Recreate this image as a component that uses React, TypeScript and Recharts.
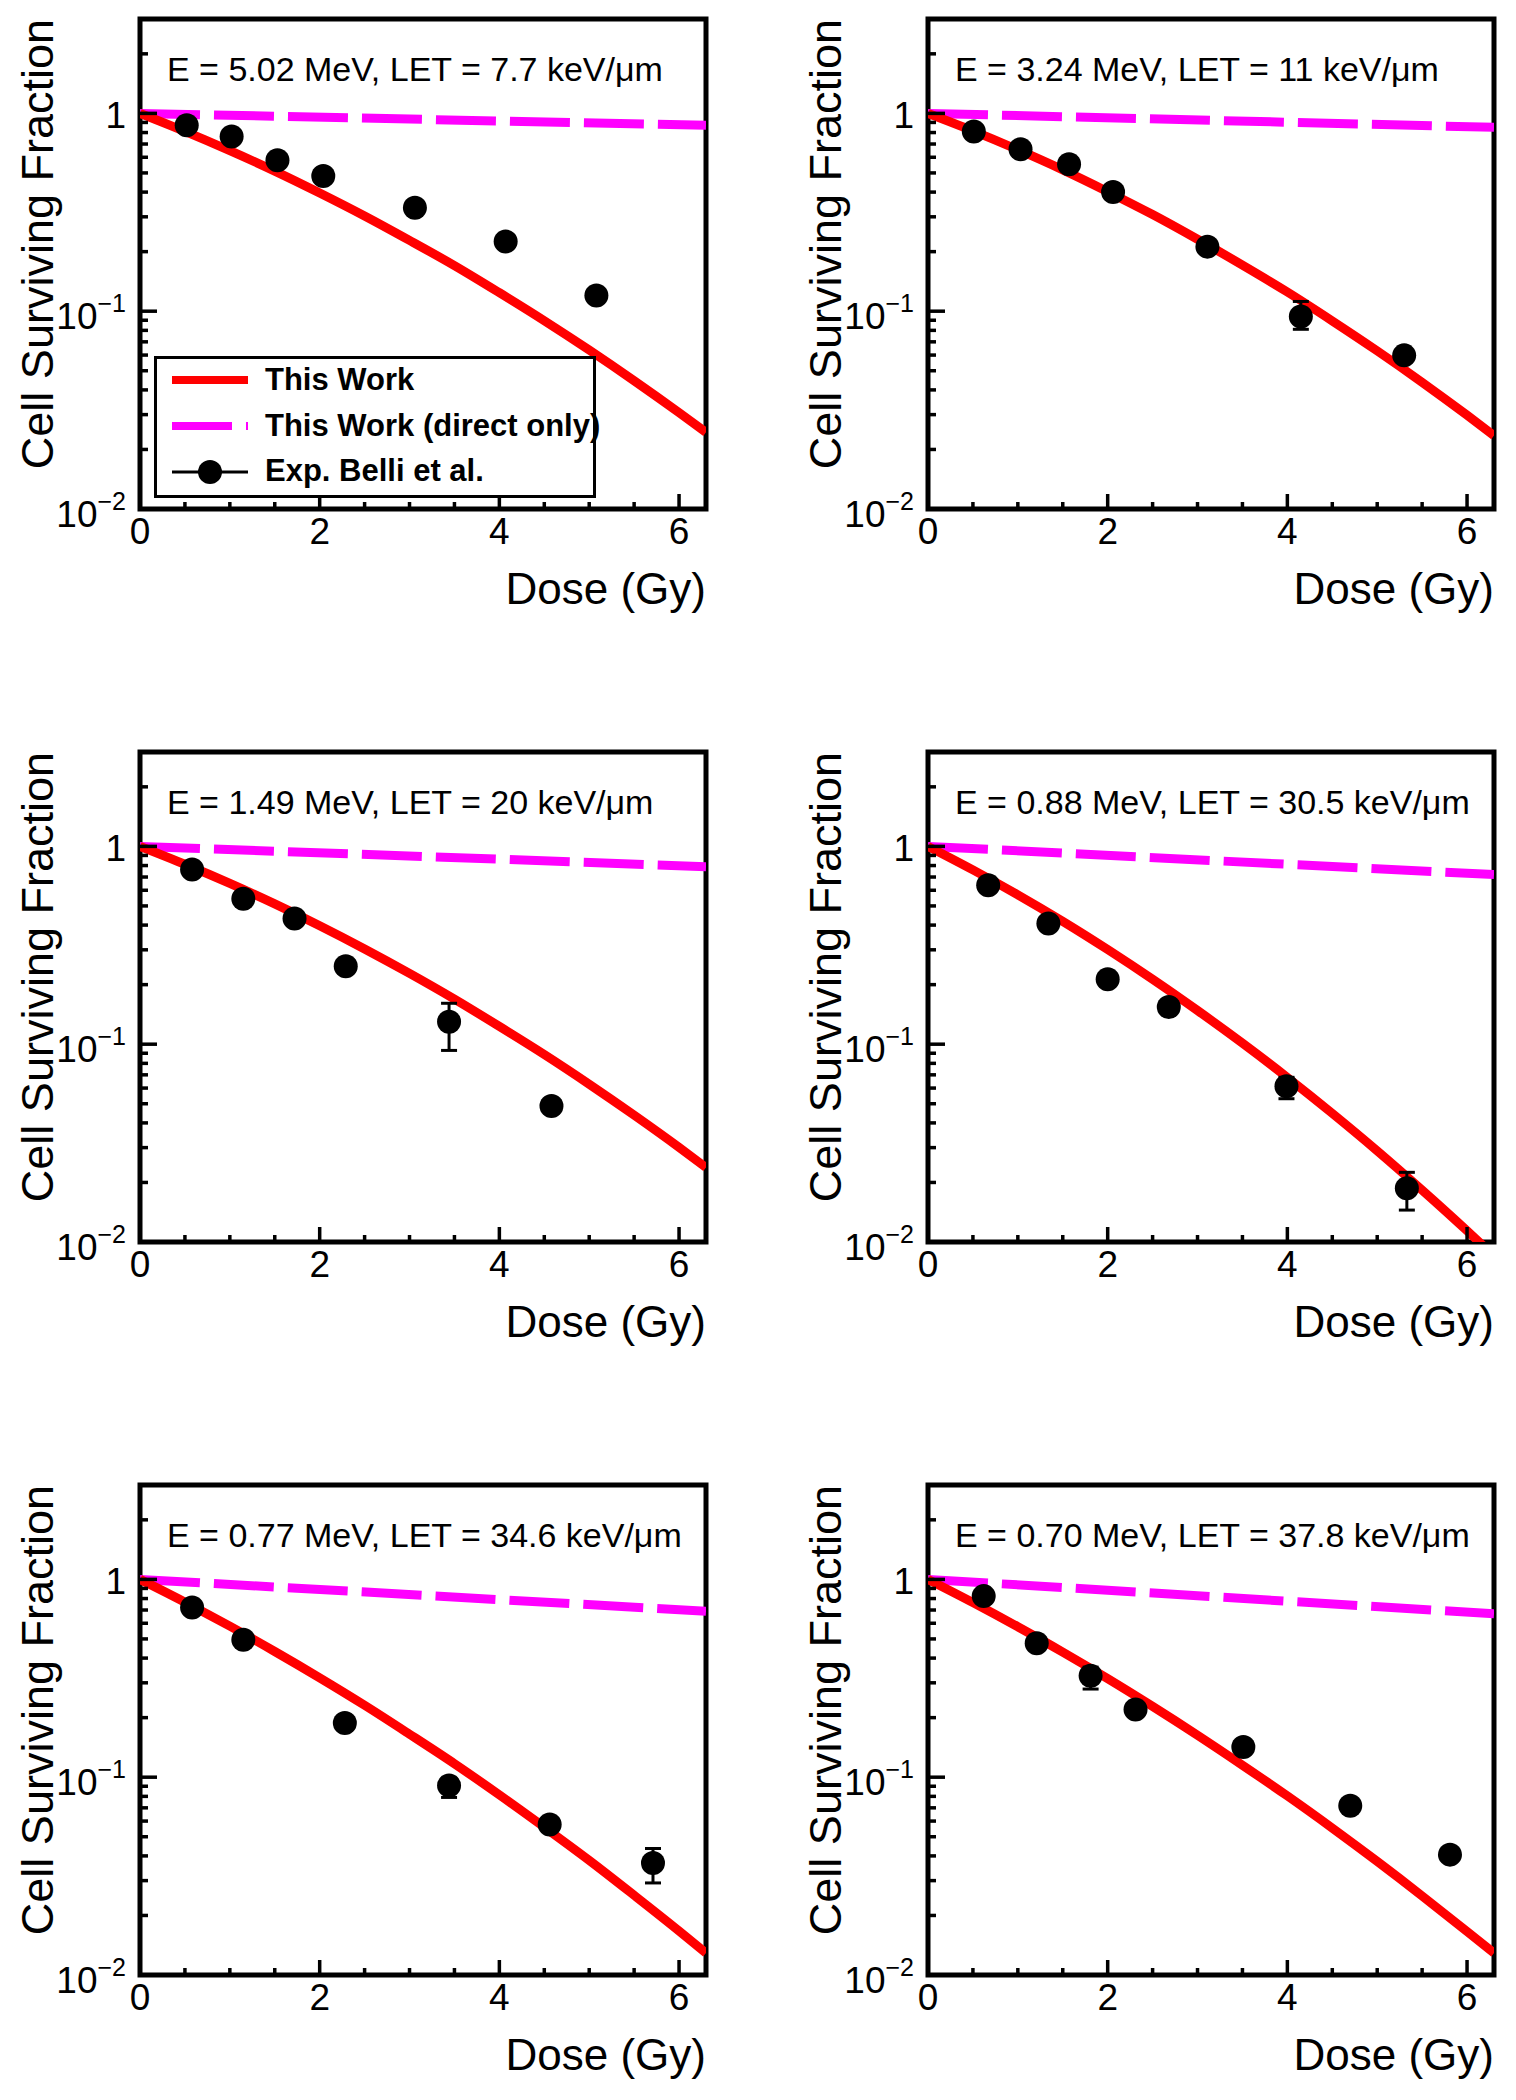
import React from "react";
import {
  ComposedChart,
  Line,
  Scatter,
  ErrorBar,
  XAxis,
  YAxis,
  ReferenceArea,
} from "recharts";

const FONT = "'Liberation Sans', Arial, Helvetica, sans-serif";

// doses at which the model curves were read
const CURVE_DOSE = [0, 0.5, 1, 1.5, 2, 2.5, 3, 3.5, 4, 4.5, 5, 5.5, 6, 6.3];
const DIRECT_DOSE = [0, 6.3];

const X_TICKS = [0, 0.5, 1, 1.5, 2, 2.5, 3, 3.5, 4, 4.5, 5, 5.5, 6];
const Y_TICKS = [
  0.01, 0.02, 0.03, 0.04, 0.05, 0.06, 0.07, 0.08, 0.09,
  0.1, 0.2, 0.3, 0.4, 0.5, 0.6, 0.7, 0.8, 0.9,
  1, 2, 3,
];

const LABELS = [
  "E = 5.02 MeV, LET = 7.7 keV/\u03bcm",
  "E = 3.24 MeV, LET = 11 keV/\u03bcm",
  "E = 1.49 MeV, LET = 20 keV/\u03bcm",
  "E = 0.88 MeV, LET = 30.5 keV/\u03bcm",
  "E = 0.77 MeV, LET = 34.6 keV/\u03bcm",
  "E = 0.70 MeV, LET = 37.8 keV/\u03bcm",
];

// "This Work" (full model)
const MODEL_1 = [1, 0.811, 0.648, 0.511, 0.396, 0.303, 0.228, 0.17, 0.124, 0.0895, 0.0636, 0.0445, 0.0307, 0.0244];
const MODEL_2 = [1, 0.816, 0.655, 0.518, 0.402, 0.308, 0.231, 0.171, 0.125, 0.0893, 0.063, 0.0437, 0.0298, 0.0235];
const MODEL_3 = [1, 0.812, 0.65, 0.512, 0.397, 0.303, 0.228, 0.169, 0.123, 0.0887, 0.0628, 0.0438, 0.0301, 0.0238];
const MODEL_4 = [1, 0.761, 0.569, 0.418, 0.301, 0.213, 0.148, 0.1012, 0.0679, 0.0447, 0.0289, 0.0183, 0.0114, 0.0085];
const MODEL_5 = [1, 0.767, 0.58, 0.432, 0.318, 0.231, 0.165, 0.117, 0.0814, 0.0559, 0.038, 0.0253, 0.0167, 0.0129];
const MODEL_6 = [1, 0.764, 0.576, 0.429, 0.315, 0.228, 0.163, 0.115, 0.0804, 0.0553, 0.0375, 0.0251, 0.0166, 0.0129];

// "This Work (direct only)"
const DIRECT_1 = [1, 0.87];
const DIRECT_2 = [1, 0.85];
const DIRECT_3 = [1, 0.79];
const DIRECT_4 = [1, 0.72];
const DIRECT_5 = [1, 0.69];
const DIRECT_6 = [1, 0.67];

// Exp. Belli et al.
const EXP_DOSE_1 = [0.52, 1.02, 1.53, 2.04, 3.06, 4.07, 5.08];
const EXP_SF_1 = [0.87, 0.764, 0.58, 0.483, 0.333, 0.225, 0.12];
const EXP_LO_1 = [0.87, 0.764, 0.58, 0.483, 0.333, 0.225, 0.12];
const EXP_HI_1 = [0.87, 0.764, 0.58, 0.483, 0.333, 0.225, 0.12];

const EXP_DOSE_2 = [0.51, 1.03, 1.57, 2.06, 3.11, 4.15, 5.3];
const EXP_SF_2 = [0.81, 0.659, 0.553, 0.4, 0.212, 0.094, 0.0598];
const EXP_LO_2 = [0.81, 0.659, 0.553, 0.4, 0.212, 0.081, 0.0598];
const EXP_HI_2 = [0.81, 0.659, 0.553, 0.4, 0.212, 0.112, 0.0598];

const EXP_DOSE_3 = [0.58, 1.15, 1.72, 2.29, 3.44, 4.58];
const EXP_SF_3 = [0.765, 0.544, 0.432, 0.248, 0.13, 0.0487];
const EXP_LO_3 = [0.765, 0.544, 0.432, 0.248, 0.093, 0.0487];
const EXP_HI_3 = [0.765, 0.544, 0.432, 0.248, 0.161, 0.0487];

const EXP_DOSE_4 = [0.67, 1.34, 2.0, 2.68, 3.99, 5.33];
const EXP_SF_4 = [0.636, 0.407, 0.213, 0.154, 0.0613, 0.0187];
const EXP_LO_4 = [0.636, 0.407, 0.213, 0.154, 0.053, 0.0145];
const EXP_HI_4 = [0.636, 0.407, 0.213, 0.154, 0.068, 0.0225];

const EXP_DOSE_5 = [0.58, 1.15, 2.28, 3.44, 4.56, 5.71];
const EXP_SF_5 = [0.721, 0.495, 0.188, 0.0907, 0.0576, 0.0368];
const EXP_LO_5 = [0.721, 0.495, 0.188, 0.079, 0.0576, 0.0292];
const EXP_HI_5 = [0.721, 0.495, 0.188, 0.099, 0.0576, 0.0436];

const EXP_DOSE_6 = [0.62, 1.21, 1.81, 2.31, 3.51, 4.7, 5.81];
const EXP_SF_6 = [0.823, 0.476, 0.326, 0.22, 0.142, 0.0718, 0.0406];
const EXP_LO_6 = [0.823, 0.476, 0.279, 0.22, 0.142, 0.0718, 0.0406];
const EXP_HI_6 = [0.823, 0.476, 0.36, 0.22, 0.142, 0.0718, 0.0406];

const PANELS = [
  { model: MODEL_1, direct: DIRECT_1, dose: EXP_DOSE_1, sf: EXP_SF_1, lo: EXP_LO_1, hi: EXP_HI_1 },
  { model: MODEL_2, direct: DIRECT_2, dose: EXP_DOSE_2, sf: EXP_SF_2, lo: EXP_LO_2, hi: EXP_HI_2 },
  { model: MODEL_3, direct: DIRECT_3, dose: EXP_DOSE_3, sf: EXP_SF_3, lo: EXP_LO_3, hi: EXP_HI_3 },
  { model: MODEL_4, direct: DIRECT_4, dose: EXP_DOSE_4, sf: EXP_SF_4, lo: EXP_LO_4, hi: EXP_HI_4 },
  { model: MODEL_5, direct: DIRECT_5, dose: EXP_DOSE_5, sf: EXP_SF_5, lo: EXP_LO_5, hi: EXP_HI_5 },
  { model: MODEL_6, direct: DIRECT_6, dose: EXP_DOSE_6, sf: EXP_SF_6, lo: EXP_LO_6, hi: EXP_HI_6 },
];

// layout
const PLOT_W = 566;
const PLOT_H = 490;
const M_LEFT = 40;
const Y_AXIS_W = 100;
const M_TOP = 19;
const M_RIGHT = 12;
const X_AXIS_H = 100;
const M_BOTTOM = 10;
const CW = M_LEFT + Y_AXIS_W + PLOT_W + M_RIGHT;
const CH = M_TOP + PLOT_H + X_AXIS_H + M_BOTTOM;
const COL_X = [0, 788];
const ROW_Y = [0, 733, 1466];

const RED = "#ff0000";
const MAGENTA = "#ff00ff";

const XTick = (props: any) => {
  const { x, y, payload } = props;
  const v = payload.value;
  const major = Math.abs(v - Math.round(v / 2) * 2) < 1e-6;
  return (
    <g>
      <line x1={x} x2={x} y1={y} y2={y - (major ? 15 : 7)} stroke="#000" strokeWidth={3.5} />
      {major && (
        <text x={x} y={y + 35} textAnchor="middle" fontSize={37} fontFamily={FONT} fill="#000">
          {v}
        </text>
      )}
    </g>
  );
};

const YTick = (props: any) => {
  const { x, y, payload } = props;
  const v = payload.value;
  const exp = Math.log10(v);
  const major = Math.abs(exp - Math.round(exp)) < 1e-6;
  const e = Math.round(exp);
  return (
    <g>
      <line x1={x} x2={x + (major ? 17 : 8)} y1={y} y2={y} stroke="#000" strokeWidth={3.5} />
      {major && (
        <text
          x={x - 14}
          y={y + (e === 0 ? 15 : 18)}
          textAnchor="end"
          fontSize={37}
          fontFamily={FONT}
          fill="#000"
        >
          {e === 0 ? (
            "1"
          ) : (
            <>
              10
              <tspan dy={-17} fontSize={25}>
                {"\u2212" + Math.abs(e)}
              </tspan>
            </>
          )}
        </text>
      )}
    </g>
  );
};

const Marker = (props: any) => <circle cx={props.cx} cy={props.cy} r={12} fill="#000" />;

function Panel({ idx }: { idx: number }) {
  const p = PANELS[idx];
  const curve = CURVE_DOSE.map((x, i) => ({ x, y: p.model[i] }));
  const direct = DIRECT_DOSE.map((x, i) => ({ x, y: p.direct[i] }));
  const pts = p.dose.map((x, i) => ({
    x,
    y: p.sf[i],
    err: [p.sf[i] - p.lo[i], p.hi[i] - p.sf[i]],
  }));
  const left = COL_X[idx % 2];
  const top = ROW_Y[Math.floor(idx / 2)];
  return (
    <div style={{ position: "absolute", left, top, width: CW, height: CH }}>
      <ComposedChart
        width={CW}
        height={CH}
        margin={{ top: M_TOP, right: M_RIGHT, bottom: M_BOTTOM, left: M_LEFT }}
      >
        <XAxis
          type="number"
          dataKey="x"
          domain={[0, 6.3]}
          ticks={X_TICKS}
          interval={0}
          allowDataOverflow
          axisLine={false}
          tickLine={false}
          tickSize={0}
          tickMargin={0}
          height={X_AXIS_H}
          tick={XTick}
        />
        <YAxis
          type="number"
          dataKey="y"
          scale="log"
          domain={[0.01, 3]}
          ticks={Y_TICKS}
          interval={0}
          allowDataOverflow
          axisLine={false}
          tickLine={false}
          tickSize={0}
          tickMargin={0}
          width={Y_AXIS_W}
          tick={YTick}
        />
        <Line
          data={direct}
          dataKey="y"
          type="linear"
          stroke={MAGENTA}
          strokeWidth={9}
          strokeDasharray="60 14"
          dot={false}
          activeDot={false}
          isAnimationActive={false}
        />
        <Line
          data={curve}
          dataKey="y"
          type="monotone"
          stroke={RED}
          strokeWidth={9}
          dot={false}
          activeDot={false}
          isAnimationActive={false}
        />
        <Scatter data={pts} dataKey="y" fill="#000" shape={Marker} isAnimationActive={false}>
          <ErrorBar dataKey="err" direction="y" width={8} stroke="#000" strokeWidth={3} />
        </Scatter>
        <ReferenceArea
          x1={0}
          x2={6.3}
          y1={0.01}
          y2={3}
          fill="none"
          stroke="#000"
          strokeWidth={5}
          ifOverflow="visible"
        />
      </ComposedChart>
    </div>
  );
}

function Overlay() {
  const items = PANELS.map((_, idx) => {
    const L = COL_X[idx % 2] + M_LEFT + Y_AXIS_W;
    const T = ROW_Y[Math.floor(idx / 2)] + M_TOP;
    const R = L + PLOT_W;
    const B = T + PLOT_H;
    return (
      <g key={idx} fontFamily={FONT} fill="#000">
        <text
          transform={`translate(${L - 87},${T}) rotate(-90)`}
          textAnchor="end"
          fontSize={45}
        >
          Cell Surviving Fraction
        </text>
        <text x={R} y={B + 95} textAnchor="end" fontSize={44}>
          Dose (Gy)
        </text>
        <text x={L + 27} y={T + 62} fontSize={34}>
          {LABELS[idx]}
        </text>
      </g>
    );
  });
  return (
    <svg
      width={1516}
      height={2100}
      style={{ position: "absolute", left: 0, top: 0, pointerEvents: "none" }}
    >
      {items}
      <g fontFamily={FONT} fontWeight="bold" fontSize={31} fill="#000">
        <rect x={155.5} y={357.5} width={439} height={139} fill="#fff" stroke="#000" strokeWidth={3} />
        <line x1={172} x2={248} y1={380} y2={380} stroke={RED} strokeWidth={8} />
        <text x={265} y={390}>This Work</text>
        <line x1={172} x2={248} y1={426} y2={426} stroke={MAGENTA} strokeWidth={8} strokeDasharray="60 14" />
        <text x={265} y={436}>This Work (direct only)</text>
        <line x1={172} x2={248} y1={472} y2={472} stroke="#000" strokeWidth={3} />
        <circle cx={210} cy={472} r={12} fill="#000" />
        <text x={265} y={481}>Exp. Belli et al.</text>
      </g>
    </svg>
  );
}

export default function App() {
  return (
    <div
      style={{
        position: "absolute",
        left: 0,
        top: 0,
        width: 1516,
        height: 2100,
        background: "#fff",
        overflow: "hidden",
      }}
    >
      {PANELS.map((_, i) => (
        <Panel key={i} idx={i} />
      ))}
      <Overlay />
    </div>
  );
}
